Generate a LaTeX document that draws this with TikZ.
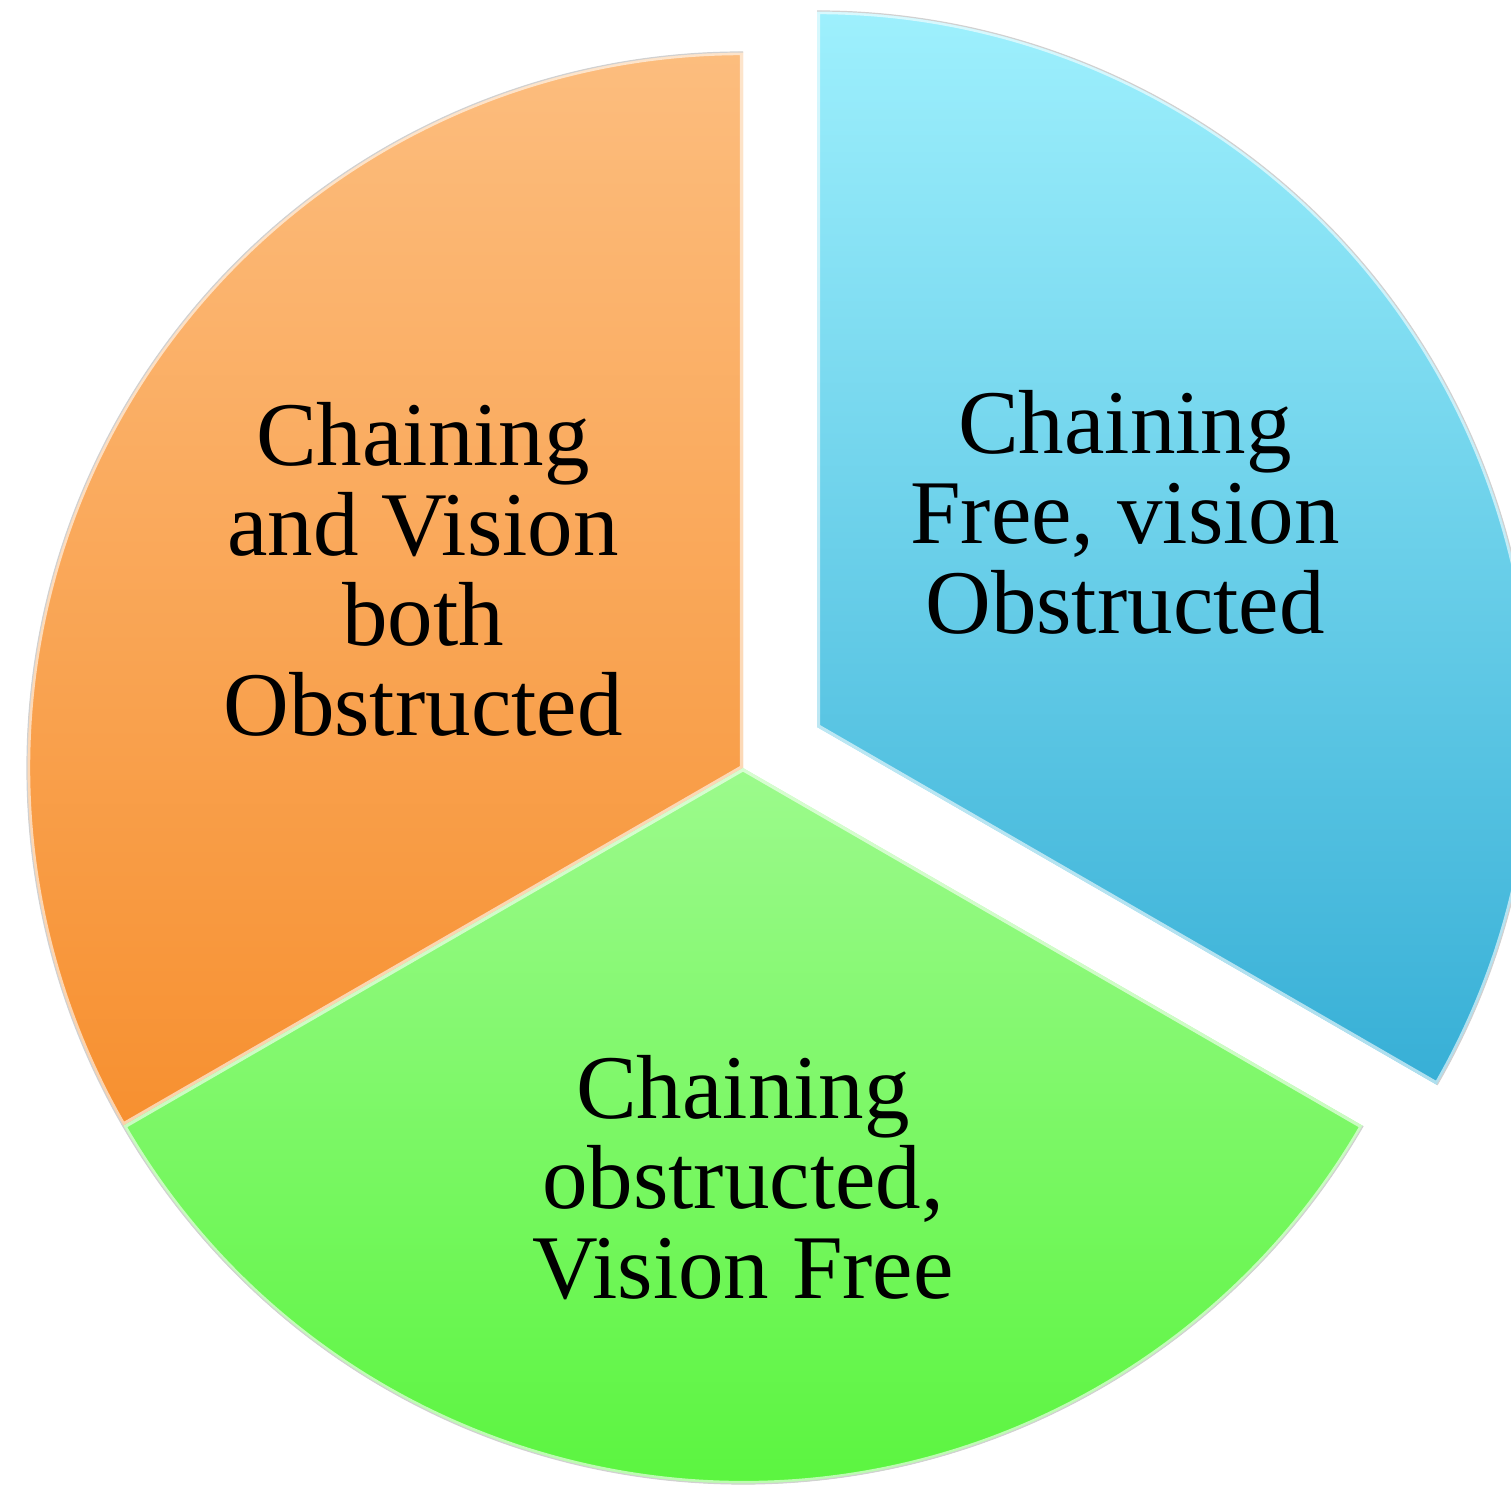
\documentclass[tikz,border=0pt]{standalone}
\usepackage{fontspec}
\setmainfont{Liberation Serif}
\definecolor{orangeT}{HTML}{FCBD7E}
\definecolor{orangeB}{HTML}{F79030}
\definecolor{greenT}{HTML}{9CFA8C}
\definecolor{greenB}{HTML}{52F435}
\definecolor{blueT}{HTML}{9EF0FD}
\definecolor{blueB}{HTML}{37AFD6}
\begin{document}
\begin{tikzpicture}[x=0.5pt,y=0.5pt,
  lbl/.style={font=\fontsize{45.5pt}{45pt}\selectfont, align=center, text=black, inner sep=0pt},
  hl/.style={draw=white, line width=3.2pt, opacity=0.6},
  rim/.style={draw=black!18, line width=0.6pt}]
\useasboundingbox (0,0) rectangle (1511,1488);
\clip (0,0) rectangle (1511,1488);
\coordinate (O) at (743,720);
\coordinate (B) at (817,761);
% orange sector
\shade[top color=orangeT, bottom color=orangeB]
  (O) -- ++(90:716) arc[start angle=90,end angle=210,radius=716] -- cycle;
\begin{scope}
  \clip (O) -- ++(90:716) arc[start angle=90,end angle=210,radius=716] -- cycle;
  \draw[hl] (O) -- ++(90:716) arc[start angle=90,end angle=210,radius=716] -- cycle;
\end{scope}
% green sector
\shade[top color=greenT, bottom color=greenB]
  (O) -- ++(210:716) arc[start angle=210,end angle=330,radius=716] -- cycle;
\begin{scope}
  \clip (O) -- ++(210:716) arc[start angle=210,end angle=330,radius=716] -- cycle;
  \draw[hl] (O) -- ++(210:716) arc[start angle=210,end angle=330,radius=716] -- cycle;
\end{scope}
% blue sector (exploded)
\shade[top color=blueT, bottom color=blueB]
  (B) -- ++(-30:716) arc[start angle=-30,end angle=90,radius=716] -- cycle;
\begin{scope}
  \clip (B) -- ++(-30:716) arc[start angle=-30,end angle=90,radius=716] -- cycle;
  \draw[hl] (B) -- ++(-30:716) arc[start angle=-30,end angle=90,radius=716] -- cycle;
\end{scope}
\draw[rim] (O) ++(90:716) arc[start angle=90,end angle=330,radius=716];
\draw[rim] (B) ++(-30:716) arc[start angle=-30,end angle=90,radius=716];
% labels
\node[lbl] (tO) at (423,919) {Chaining\\and Vision\\both\\Obstructed};
\node[lbl] (tB) at (1125,976) {Chaining\\Free, vision\\Obstructed};
\node[lbl] (tG) at (743,310) {Chaining\\obstructed,\\Vision Free};
\end{tikzpicture}
\end{document}
